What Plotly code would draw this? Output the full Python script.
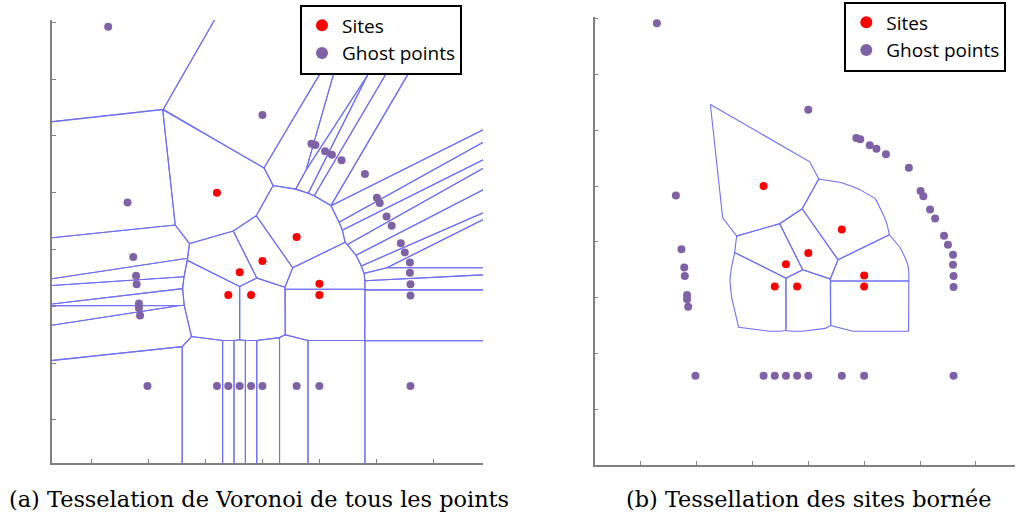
import numpy as np
import plotly.graph_objects as go

# ---- data (tick units) ----
site_x = [2.2, 3.6, 3.0, 2.6, 2.4, 2.8, 4.0, 4.0]
site_y = [4.0, 3.22, 2.8, 2.6, 2.2, 2.2, 2.4, 2.2]

ghost_x = [0.29, 0.63, 3.0, 3.86, 3.93, 4.10, 4.22, 4.39, 4.80, 5.01, 5.06, 5.18, 5.27,
           5.43, 5.50, 5.59, 5.59, 5.60, 5.60,
           0.73, 0.78, 0.79, 0.83, 0.83, 0.85,
           0.98, 2.2, 2.4, 2.6, 2.8, 3.0, 3.6, 4.0, 5.6]
ghost_y = [6.92, 3.83, 5.37, 4.86, 4.84, 4.73, 4.67, 4.57, 4.33, 3.91, 3.82, 3.58, 3.42,
           3.11, 2.95, 2.77, 2.59, 2.39, 2.19,
           2.87, 2.54, 2.39, 2.05, 1.97, 1.84,
           0.6, 0.6, 0.6, 0.6, 0.6, 0.6, 0.6, 0.6, 0.6]

x_ticks = [0, 1, 2, 3, 4, 5, 6]
y_ticks = [0, 1, 2, 3, 4, 5, 6, 7]

caption_a = "(a) Tesselation de Voronoi de tous les points"
caption_b = "(b) Tessellation des sites bornée"

SITE_COLOR = "#ff0000"
GHOST_COLOR = "#7f62a6"
EDGE_COLOR = "#6f6ff2"


# ---- Voronoi cells by half-plane clipping ----
def voronoi_cell(i, pts, box):
    x0, y0, x1, y1 = box
    poly = [np.array(v, float) for v in [(x0, y0), (x1, y0), (x1, y1), (x0, y1)]]
    p = pts[i]
    for j in range(len(pts)):
        if j == i:
            continue
        q = pts[j]
        n = q - p
        m = (p + q) / 2.0
        new = []
        L = len(poly)
        for k in range(L):
            a = poly[k]
            b = poly[(k + 1) % L]
            da = np.dot(a - m, n)
            db = np.dot(b - m, n)
            if da <= 0:
                new.append(a)
            if da * db < 0:
                t = da / (da - db)
                new.append(a + t * (b - a))
        poly = new
        if not poly:
            break
    return poly


pts = np.array(list(zip(site_x + ghost_x, site_y + ghost_y)), float)
n_sites = len(site_x)
box = (-30, -30, 40, 40)
cells = [voronoi_cell(i, pts, box) for i in range(len(pts))]


def cell_lines(indices):
    xs, ys = [], []
    for i in indices:
        poly = cells[i]
        if not poly:
            continue
        for v in poly + [poly[0]]:
            xs.append(float(v[0]))
            ys.append(float(v[1]))
        xs.append(None)
        ys.append(None)
    return xs, ys


fig = go.Figure()

# left panel: every cell
lx, ly = cell_lines(range(len(pts)))
fig.add_trace(go.Scatter(x=lx, y=ly, mode="lines", line=dict(color=EDGE_COLOR, width=1.1),
                         showlegend=False, hoverinfo="skip", xaxis="x", yaxis="y"))
fig.add_trace(go.Scatter(x=site_x, y=site_y, mode="markers", name="Sites",
                         marker=dict(color=SITE_COLOR, size=8), xaxis="x", yaxis="y",
                         legend="legend"))
fig.add_trace(go.Scatter(x=ghost_x, y=ghost_y, mode="markers", name="Ghost points",
                         marker=dict(color=GHOST_COLOR, size=8), xaxis="x", yaxis="y",
                         legend="legend"))

# right panel: bounded site cells only
rx, ry = cell_lines(range(n_sites))
fig.add_trace(go.Scatter(x=rx, y=ry, mode="lines", line=dict(color=EDGE_COLOR, width=1.1),
                         showlegend=False, hoverinfo="skip", xaxis="x2", yaxis="y2"))
fig.add_trace(go.Scatter(x=site_x, y=site_y, mode="markers", name="Sites",
                         marker=dict(color=SITE_COLOR, size=8), xaxis="x2", yaxis="y2",
                         legend="legend2"))
fig.add_trace(go.Scatter(x=ghost_x, y=ghost_y, mode="markers", name="Ghost points",
                         marker=dict(color=GHOST_COLOR, size=8), xaxis="x2", yaxis="y2",
                         legend="legend2"))

W, H = 1016, 514

axis_common = dict(showline=True, linecolor="#808080", linewidth=1.5, ticks="inside",
                   ticklen=4, tickcolor="#808080", tickwidth=1, showticklabels=False,
                   showgrid=False, zeroline=False, mirror=False, fixedrange=True)

legend_common = dict(bgcolor="white", bordercolor="black", borderwidth=2,
                     font=dict(family="Open Sans", size=19, color="black"),
                     xanchor="left", yanchor="top", itemsizing="constant")

fig.update_layout(
    width=W, height=H,
    margin=dict(l=0, r=0, t=0, b=0),
    paper_bgcolor="white", plot_bgcolor="white",
    xaxis=dict(domain=[52 / W, 483 / W], range=[-0.697, 6.874], tickvals=x_ticks,
               anchor="y", **axis_common),
    yaxis=dict(domain=[(H - 463) / H, (H - 20) / H], range=[-0.757, 7.04], tickvals=y_ticks,
               anchor="x", **axis_common),
    xaxis2=dict(domain=[594.7 / W, 1015 / W], range=[-0.823, 6.70], tickvals=x_ticks,
                anchor="y2", **axis_common),
    yaxis2=dict(domain=[(H - 465) / H, (H - 17) / H], range=[-0.998, 7.03], tickvals=y_ticks,
                anchor="x2", **axis_common),
    legend=dict(x=300 / W, y=(H - 4.5) / H, **legend_common),
    legend2=dict(x=844.3 / W, y=(H - 1.5) / H, **legend_common),
    annotations=[
        dict(text=caption_a, x=258.5 / W, y=(H - 499) / H, xref="paper", yref="paper",
             xanchor="center", yanchor="middle", showarrow=False,
             font=dict(family="DejaVu Serif", size=22.4, color="black")),
        dict(text=caption_b, x=809 / W, y=(H - 499) / H, xref="paper", yref="paper",
             xanchor="center", yanchor="middle", showarrow=False,
             font=dict(family="DejaVu Serif", size=22.4, color="black")),
    ],
)

fig.write_html("out.html", config={"displayModeBar": False},
               post_script="document.body.style.margin='0';document.body.style.padding='0';"
                           "document.body.style.overflow='hidden';")
